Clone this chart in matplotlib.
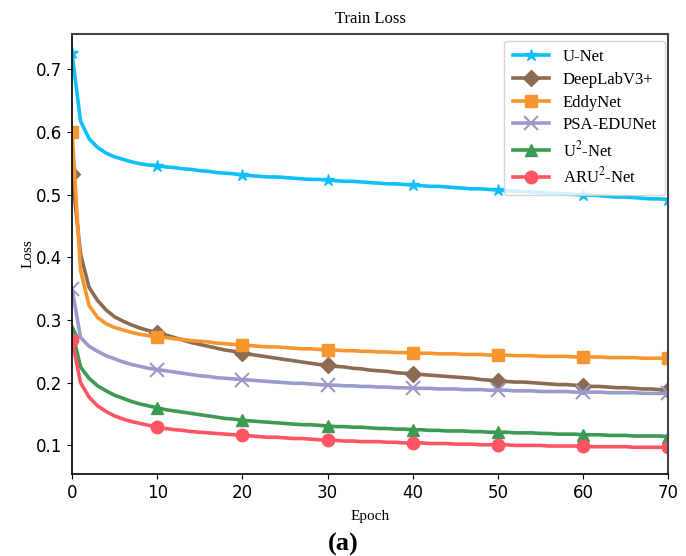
import numpy as np
import matplotlib.pyplot as plt

epochs = list(range(71))

unet = [0.725, 0.617, 0.589, 0.575, 0.566, 0.560, 0.556, 0.552, 0.549, 0.547, 0.546,
        0.544, 0.543, 0.541, 0.540, 0.538, 0.537, 0.535, 0.534, 0.533, 0.531,
        0.530, 0.529, 0.528, 0.528, 0.527, 0.526, 0.525, 0.524, 0.524, 0.523,
        0.522, 0.521, 0.521, 0.520, 0.519, 0.518, 0.517, 0.517, 0.516, 0.515,
        0.514, 0.513, 0.513, 0.512, 0.511, 0.510, 0.509, 0.509, 0.508, 0.507,
        0.506, 0.505, 0.505, 0.504, 0.503, 0.502, 0.502, 0.501, 0.500, 0.499,
        0.499, 0.498, 0.497, 0.496, 0.496, 0.495, 0.494, 0.493, 0.493, 0.492]

deeplab = [0.533, 0.405, 0.352, 0.331, 0.316, 0.305, 0.298, 0.292, 0.287, 0.283, 0.280,
           0.276, 0.272, 0.268, 0.264, 0.261, 0.258, 0.255, 0.252, 0.250, 0.247,
           0.245, 0.243, 0.241, 0.239, 0.237, 0.235, 0.233, 0.231, 0.229, 0.228,
           0.226, 0.225, 0.223, 0.222, 0.220, 0.219, 0.218, 0.216, 0.215, 0.214,
           0.213, 0.212, 0.211, 0.210, 0.209, 0.208, 0.207, 0.205, 0.204, 0.203,
           0.202, 0.201, 0.201, 0.200, 0.199, 0.198, 0.197, 0.197, 0.196, 0.195,
           0.194, 0.194, 0.193, 0.192, 0.192, 0.191, 0.190, 0.190, 0.189, 0.188]

eddynet = [0.600, 0.379, 0.323, 0.304, 0.294, 0.288, 0.284, 0.280, 0.277, 0.275, 0.273,
           0.272, 0.270, 0.269, 0.267, 0.266, 0.265, 0.263, 0.262, 0.261, 0.260,
           0.259, 0.258, 0.257, 0.257, 0.256, 0.255, 0.254, 0.254, 0.253, 0.252,
           0.252, 0.251, 0.251, 0.250, 0.250, 0.249, 0.249, 0.248, 0.248, 0.247,
           0.247, 0.247, 0.246, 0.246, 0.246, 0.245, 0.245, 0.245, 0.244, 0.244,
           0.244, 0.243, 0.243, 0.243, 0.242, 0.242, 0.242, 0.242, 0.241, 0.241,
           0.241, 0.241, 0.240, 0.240, 0.240, 0.240, 0.239, 0.239, 0.239, 0.239]

psa_edunet = [0.350, 0.272, 0.258, 0.250, 0.243, 0.238, 0.233, 0.229, 0.226, 0.223, 0.221,
              0.219, 0.217, 0.215, 0.213, 0.211, 0.210, 0.208, 0.207, 0.206, 0.205,
              0.204, 0.203, 0.202, 0.201, 0.200, 0.199, 0.199, 0.198, 0.197, 0.196,
              0.196, 0.195, 0.195, 0.194, 0.194, 0.193, 0.193, 0.192, 0.192, 0.191,
              0.191, 0.191, 0.190, 0.190, 0.190, 0.189, 0.189, 0.189, 0.188, 0.188,
              0.188, 0.187, 0.187, 0.187, 0.186, 0.186, 0.186, 0.186, 0.185, 0.185,
              0.185, 0.185, 0.184, 0.184, 0.184, 0.184, 0.183, 0.183, 0.183, 0.183]

u2net = [0.283, 0.225, 0.207, 0.195, 0.187, 0.180, 0.175, 0.170, 0.166, 0.163, 0.160,
         0.157, 0.155, 0.153, 0.151, 0.149, 0.147, 0.145, 0.143, 0.142, 0.140,
         0.139, 0.138, 0.137, 0.136, 0.135, 0.134, 0.133, 0.133, 0.132, 0.131,
         0.130, 0.130, 0.129, 0.129, 0.128, 0.127, 0.127, 0.126, 0.126, 0.125,
         0.125, 0.124, 0.124, 0.123, 0.123, 0.123, 0.122, 0.122, 0.121, 0.121,
         0.121, 0.120, 0.120, 0.120, 0.119, 0.119, 0.118, 0.118, 0.118, 0.117,
         0.117, 0.117, 0.116, 0.116, 0.116, 0.115, 0.115, 0.115, 0.115, 0.114]

aru2net = [0.268, 0.200, 0.177, 0.163, 0.154, 0.147, 0.142, 0.138, 0.135, 0.132, 0.129,
           0.127, 0.125, 0.124, 0.122, 0.121, 0.120, 0.119, 0.118, 0.117, 0.116,
           0.115, 0.114, 0.113, 0.113, 0.112, 0.111, 0.111, 0.110, 0.109, 0.108,
           0.108, 0.107, 0.107, 0.106, 0.106, 0.106, 0.105, 0.105, 0.104, 0.104,
           0.104, 0.103, 0.103, 0.103, 0.102, 0.102, 0.102, 0.101, 0.101, 0.101,
           0.101, 0.100, 0.100, 0.100, 0.100, 0.099, 0.099, 0.099, 0.099, 0.099,
           0.098, 0.098, 0.098, 0.098, 0.098, 0.097, 0.097, 0.097, 0.097, 0.097]

labels = ['U-Net', 'DeepLabV3+', 'EddyNet', 'PSA-EDUNet', 'U$^2$-Net', 'ARU$^2$-Net']
series = [unet, deeplab, eddynet, psa_edunet, u2net, aru2net]
colors = ['#0fc0f8', '#8c6b52', '#f7962e', '#9a9acb', '#3d9a52', '#ff5562']
markers = ['*', 'D', 's', 'x', '^', 'o']
msizes = [9, 8, 9, 10, 9, 9]

plt.rcParams['mathtext.fontset'] = 'stix'

fig = plt.figure(figsize=(6.86, 5.56), dpi=100)
ax = fig.add_axes([0.105, 0.147, 0.869, 0.792])

for y, lab, c, m, ms in zip(series, labels, colors, markers, msizes):
    ax.plot(epochs, y, color=c, lw=2.6, marker=m, markersize=ms, markevery=10,
            markeredgewidth=1.5 if m == 'x' else 1, label=lab)

ax.set_xlim(0, 70)
ax.set_ylim(0.054, 0.756)
ax.set_xticks([0, 10, 20, 30, 40, 50, 60, 70])
ax.set_yticks([0.1, 0.2, 0.3, 0.4, 0.5, 0.6, 0.7])
ax.tick_params(labelsize=12)

for s in ['top', 'right']:
    ax.spines[s].set_color('#444444')
    ax.spines[s].set_linewidth(1.5)
for s in ['left', 'bottom']:
    ax.spines[s].set_color('black')
    ax.spines[s].set_linewidth(1.2)

ax.set_title('Train Loss', family='Liberation Serif', fontsize=12, pad=8)
ax.set_xlabel('Epoch', family='Liberation Serif', fontsize=11, labelpad=6)
ax.set_ylabel('Loss', family='Liberation Serif', fontsize=11, labelpad=1)

leg = ax.legend(loc='upper right', prop={'family': 'Liberation Serif', 'size': 12},
                handlelength=2.2, borderpad=0.5, labelspacing=0.4,
                handletextpad=0.8, fancybox=True, borderaxespad=0,
                bbox_to_anchor=(0.995, 0.984))
leg.get_frame().set_edgecolor('#cccccc')

fig.text(0.5, 0.01, '(a)', ha='center', family='Liberation Serif',
         fontweight='bold', fontsize=19)

fig.savefig('out.png', dpi=100)
